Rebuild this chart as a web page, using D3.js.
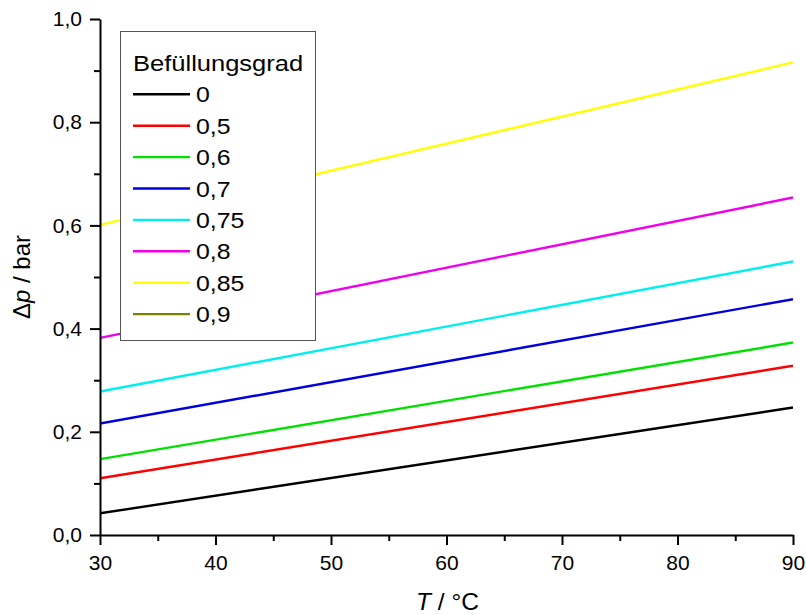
<!DOCTYPE html>
<html>
<head>
<meta charset="utf-8">
<script src="https://cdn.jsdelivr.net/npm/d3@7"></script>
<style>
  html, body { margin: 0; padding: 0; background: #fff; }
  svg { display: block; font-family: "Liberation Sans", Arial, sans-serif; }
</style>
</head>
<body>
<svg id="chart" width="806" height="615"></svg>
<script>
// Temperature range of the calculation (°C)
const temps = [30, 90];

// Pressure difference Δp (bar) per filling level, at 30 °C and 90 °C
const dp_0    = [0.042, 0.247];
const dp_05   = [0.110, 0.328];
const dp_06   = [0.147, 0.373];
const dp_07   = [0.216, 0.457];
const dp_075  = [0.278, 0.530];
const dp_08   = [0.382, 0.654];
const dp_085  = [0.601, 0.916];
const dp_09   = [];          // lies above the plotted range

const levelLabels = ["0", "0,5", "0,6", "0,7", "0,75", "0,8", "0,85", "0,9"];
const levelColors = ["#000000", "#ff0000", "#00e000", "#0000dd", "#00eeee", "#ee00ee", "#ffff00", "#808000"];
const levelValues = [dp_0, dp_05, dp_06, dp_07, dp_075, dp_08, dp_085, dp_09];

const xTicks = [30, 40, 50, 60, 70, 80, 90];
const yTicks = [0, 0.2, 0.4, 0.6, 0.8, 1.0];

const series = levelLabels.map((label, i) => ({
  label,
  color: levelColors[i],
  points: levelValues[i].map((v, j) => ({ t: temps[j], dp: v }))
}));

const svg = d3.select("#chart");
const plot = { left: 100, right: 793, top: 19, bottom: 535 };

const x = d3.scaleLinear().domain([30, 90]).range([plot.left, plot.right]);
const y = d3.scaleLinear().domain([0, 1.0]).range([plot.bottom, plot.top]);

const deFormat = d3.formatLocale({ decimal: ",", thousands: ".", grouping: [3], currency: ["", " €"] });
const fmt1 = deFormat.format(".1f");

svg.append("defs").append("clipPath").attr("id", "plotClip")
  .append("rect")
  .attr("x", plot.left).attr("y", plot.top)
  .attr("width", plot.right - plot.left).attr("height", plot.bottom - plot.top);

// Data lines
const line = d3.line().x(d => x(d.t)).y(d => y(d.dp));
svg.append("g").attr("clip-path", "url(#plotClip)")
  .selectAll("path")
  .data(series.filter(s => s.points.length > 1))
  .join("path")
  .attr("d", s => line(s.points))
  .attr("fill", "none")
  .attr("stroke", s => s.color)
  .attr("stroke-width", 2.4);

// Axes
function styleAxis(g) {
  g.select(".domain").attr("stroke", "#000").attr("stroke-width", 2);
  g.selectAll(".tick line").attr("stroke", "#000").attr("stroke-width", 2);
  g.selectAll(".tick text").attr("fill", "#000").attr("font-size", 21)
    .attr("font-family", "'Liberation Sans', Arial, sans-serif");
}

// minor ticks
const xMinor = d3.range(35, 90, 10);
const yMinor = [0.1, 0.3, 0.5, 0.7, 0.9];

svg.append("g")
  .attr("transform", `translate(0,${plot.bottom})`)
  .call(d3.axisBottom(x).tickValues(xMinor).tickSize(6).tickFormat(""))
  .call(g => { g.select(".domain").remove(); g.selectAll(".tick line").attr("stroke", "#000").attr("stroke-width", 2); });

svg.append("g")
  .attr("transform", `translate(${plot.left},0)`)
  .call(d3.axisLeft(y).tickValues(yMinor).tickSize(6).tickFormat(""))
  .call(g => { g.select(".domain").remove(); g.selectAll(".tick line").attr("stroke", "#000").attr("stroke-width", 2); });

svg.append("g")
  .attr("transform", `translate(0,${plot.bottom})`)
  .call(d3.axisBottom(x).tickValues(xTicks).tickSize(10).tickSizeOuter(0).tickPadding(10).tickFormat(d3.format("d")))
  .call(styleAxis);

svg.append("g")
  .attr("transform", `translate(${plot.left},0)`)
  .call(d3.axisLeft(y).tickValues(yTicks).tickSize(10).tickSizeOuter(0).tickPadding(8).tickFormat(fmt1))
  .call(styleAxis);

// Axis titles
const xTitle = svg.append("text")
  .attr("x", (plot.left + plot.right) / 2 + 1)
  .attr("y", 610)
  .attr("text-anchor", "middle")
  .attr("font-size", 24.5);
xTitle.append("tspan").attr("font-style", "italic").text("T");
xTitle.append("tspan").text(" / °C");

const yTitle = svg.append("text")
  .attr("transform", `translate(30,${(plot.top + plot.bottom) / 2}) rotate(-90)`)
  .attr("text-anchor", "middle")
  .attr("font-size", 24);
yTitle.append("tspan").text("Δ");
yTitle.append("tspan").attr("font-style", "italic").text("p");
yTitle.append("tspan").text(" / bar");

// Legend
const legend = svg.append("g");
legend.append("rect")
  .attr("x", 120.5).attr("y", 31.5)
  .attr("width", 195).attr("height", 309)
  .attr("fill", "#fff")
  .attr("stroke", "#555")
  .attr("stroke-width", 1);

legend.append("text")
  .attr("transform", "translate(133,71) scale(1.16,1)")
  .attr("font-size", 22)
  .text("Befüllungsgrad");

const rows = legend.selectAll("g.row")
  .data(series)
  .join("g")
  .attr("class", "row")
  .attr("transform", (d, i) => `translate(0,${94.3 + i * 31.4})`);

rows.append("line")
  .attr("x1", 133).attr("x2", 190)
  .attr("stroke", d => d.color)
  .attr("stroke-width", 2.4);

rows.append("text")
  .attr("transform", "translate(196,8) scale(1.13,1)")
  .attr("font-size", 22)
  .text(d => d.label);
</script>
</body>
</html>
